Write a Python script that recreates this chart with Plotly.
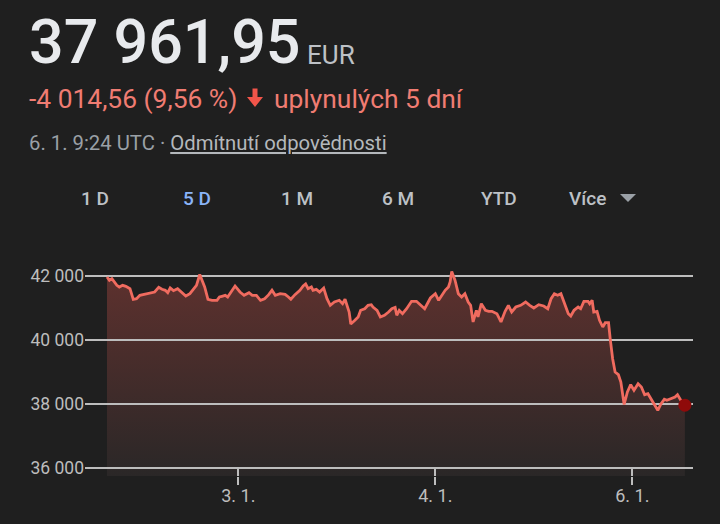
import plotly.graph_objects as go

# ---------------- data ----------------
time_h = [0.0, 0.3, 0.6, 0.9, 1.2, 1.5, 1.9, 2.3, 2.8, 3.2, 3.6, 4.0, 4.6, 5.2, 5.8, 6.3, 6.7, 7.1, 7.4, 7.7,
          8.1, 8.6, 9.1, 9.6, 10.1, 10.6, 10.9, 11.3, 11.6, 11.9, 12.3, 12.8, 13.4, 13.7, 14.0, 14.4, 14.7, 15.1, 15.6, 16.2,
          16.7, 17.3, 17.7, 18.2, 18.7, 19.2, 19.7, 20.1, 20.5, 21.1, 21.7, 22.1, 22.4, 22.9, 23.5, 23.9, 24.2, 24.5, 24.9, 25.1,
          25.5, 25.9, 26.4, 26.8, 27.2, 27.7, 28.3, 28.7, 29.0, 29.5, 29.7, 30.2, 30.6, 30.9, 31.4, 31.8, 32.2, 32.4, 32.9, 33.3,
          33.8, 34.3, 34.7, 35.1, 35.3, 35.6, 36.0, 36.5, 37.1, 37.7, 38.3, 38.7, 39.4, 40.0, 40.4, 40.9, 41.2, 41.6, 41.8, 42.0,
          42.4, 42.8, 43.2, 43.6, 44.0, 44.3, 44.6, 45.0, 45.2, 45.6, 46.1, 46.5, 46.9, 47.5, 48.0, 48.5, 48.9, 49.3, 49.8, 50.4,
          51.0, 51.5, 52.0, 52.6, 53.2, 53.7, 54.1, 54.5, 54.9, 55.3, 55.7, 56.2, 56.5, 56.9, 57.4, 57.7, 58.1, 58.6, 58.8, 59.1,
          59.3, 59.7, 60.0, 60.4, 60.7, 61.1, 61.3, 61.6, 61.9, 62.3, 62.6, 63.0, 63.4, 63.8, 64.2, 64.7, 65.1, 65.5, 65.9, 66.4,
          66.8, 67.1, 67.5, 67.9, 68.2, 68.7, 69.2, 69.5, 69.9, 70.4]
price_eur = [41970, 41866, 41916, 41791, 41709, 41656, 41709, 41678, 41603, 41272, 41291, 41397, 41428, 41459, 41500, 41647, 41584, 41553, 41478, 41625,
             41541, 41603, 41478, 41375, 41447, 41603, 41709, 42047, 41866, 41656, 41272, 41241, 41241, 41344, 41366, 41397, 41344, 41500, 41688, 41500,
             41397, 41478, 41397, 41397, 41241, 41291, 41416, 41553, 41397, 41447, 41428, 41344, 41272, 41416, 41553, 41688, 41750, 41603, 41656, 41553,
             41584, 41500, 41625, 41291, 41084, 41188, 41241, 41134, 41272, 40875, 40500, 40616, 40719, 40928, 40978, 41084, 41103, 41031, 40928, 40719,
             40772, 40875, 40978, 41016, 40772, 40928, 40822, 40978, 41209, 41209, 41084, 40978, 41313, 41447, 41241, 41447, 41553, 41656, 41813, 42141,
             41866, 41447, 41344, 41447, 41188, 41084, 40563, 40928, 40719, 41134, 40928, 40897, 40897, 40822, 40563, 40897, 41084, 40875, 41031, 41084,
             41188, 41084, 41000, 41103, 41063, 40978, 41291, 41447, 41397, 41447, 41188, 40822, 40750, 40928, 41031, 40978, 41209, 41209, 41134, 41241,
             40875, 40897, 40616, 40406, 40541, 40541, 40041, 39416, 39000, 38916, 38688, 37984, 38375, 38603, 38428, 38634, 38531, 38291, 38322, 38116,
             37959, 37803, 38009, 38147, 38116, 38166, 38219, 38291, 38116, 37962]

x_tick_vals = [16, 40, 64]
x_tick_text = ["3. 1.", "4. 1.", "6. 1."]
y_tick_vals = [36000, 38000, 40000, 42000]
y_tick_text = ["36 000", "38 000", "40 000", "42 000"]

price_text = "37 961,95"
currency_text = "EUR"
change_text = "-4 014,56 (9,56 %)"
period_text = "uplynulých 5 dní"
stamp_text = "6. 1. 9:24 UTC · "
disclaimer_text = "Odmítnutí odpovědnosti"
tab_labels = ["1 D", "5 D", "1 M", "6 M", "YTD", "Více"]
active_tab = "5 D"

# ---------------- layout geometry ----------------
W, H = 720, 524
L, R, T, B = 85, 27, 266, 48
PW, PH = W - L - R, H - T - B
X_RANGE = [-2.68, 71.39]
Y_RANGE = [35750, 42312.5]

BG = "#1f1f1f"
GRID = "#bdbdbd"
LABEL = "#bdbdbd"
FONT = "Roboto"


def px(x):
    return (x - L) / PW


def py(y):
    return (H - B - y) / PH


fig = go.Figure()

# fill (bottom subplot)
fig.add_trace(go.Scatter(
    x=time_h, y=price_eur, mode="lines", line=dict(width=0, color="rgba(0,0,0,0)"),
    fill="tozeroy",
    fillgradient=dict(type="vertical", start=Y_RANGE[0], stop=42100,
                      colorscale=[[0, "#2a2727"], [1, "#5e312e"]]),
    xaxis="x", yaxis="y", hoverinfo="skip", showlegend=False,
))

# line + last-point dot (top subplot, above gridlines)
fig.add_trace(go.Scatter(
    x=time_h, y=price_eur, mode="lines", line=dict(width=2.8, color="#f06b5f"),
    xaxis="x2", yaxis="y2", showlegend=False,
))
fig.add_trace(go.Scatter(
    x=[time_h[-1]], y=[price_eur[-1]], mode="markers",
    marker=dict(size=13, color="#8f0a0a"),
    xaxis="x2", yaxis="y2", showlegend=False,
))

axis_common = dict(range=X_RANGE, showgrid=False, zeroline=False, showline=False,
                   tickvals=x_tick_vals, ticktext=x_tick_text, tickcolor=GRID, tickwidth=1.5,
                   ticklen=8, domain=[0, 1])

annotations = [
    dict(x=px(27), y=py(41.7), text=price_text, xanchor="left", yanchor="middle",
         font=dict(family=FONT, size=61, weight=500, color="#e8eaed")),
    dict(x=px(305), y=py(55), text=currency_text, xanchor="left", yanchor="middle",
         font=dict(family=FONT, size=26, color="#bdc1c6")),
    dict(x=px(27), y=py(98.7), text=change_text, xanchor="left", yanchor="middle",
         font=dict(family=FONT, size=26.4, color="#f07c72")),
    dict(x=px(272), y=py(98.7), text=period_text, xanchor="left", yanchor="middle",
         font=dict(family=FONT, size=26.4, color="#f07c72")),
    dict(x=px(27), y=py(143.3),
         text=stamp_text + "<span style='color:#b4b8bc'><u>" + disclaimer_text + "</u></span>",
         xanchor="left", yanchor="middle",
         font=dict(family=FONT, size=20.3, color="#9aa0a6")),
]
tab_centers = [95, 197, 297, 398, 499, 587]
for lab, cx in zip(tab_labels, tab_centers):
    annotations.append(dict(
        x=px(cx), y=py(198), text=lab, xanchor="center", yanchor="middle",
        font=dict(family=FONT, size=19, weight=500,
                  color="#8ab4f8" if lab == active_tab else "#bdc1c6")))
for a in annotations:
    a.update(xref="paper", yref="paper", showarrow=False)

tri = "M {} {} L {} {} L {} {} Z".format(px(620), py(194), px(636), py(194), px(628), py(202))
arrow = "M {} {} L {} {} L {} {} L {} {} L {} {} L {} {} L {} {} Z".format(
    px(252.5), py(88.5), px(257.5), py(88.5), px(257.5), py(97), px(263), py(97),
    px(255), py(107), px(247), py(97), px(252.5), py(97))

fig.update_layout(
    width=W, height=H,
    margin=dict(l=L, r=R, t=T, b=B, pad=0),
    paper_bgcolor=BG, plot_bgcolor="rgba(0,0,0,0)",
    showlegend=False,
    xaxis=dict(**axis_common, ticks="outside", showticklabels=False),
    yaxis=dict(range=Y_RANGE, showgrid=False, zeroline=False, showticklabels=False, domain=[0, 1]),
    xaxis2=dict(**axis_common, ticks="inside", showticklabels=True, anchor="y2",
                ticklabelstandoff=7, tickfont=dict(family=FONT, size=18, color=LABEL)),
    yaxis2=dict(range=Y_RANGE, domain=[0, 1], anchor="x2", showgrid=True, gridcolor=GRID,
                gridwidth=1.5, zeroline=False, tickvals=y_tick_vals, ticktext=y_tick_text,
                ticks="", tickfont=dict(family=FONT, size=17.5, color=LABEL)),
    annotations=annotations,
    shapes=[dict(type="path", path=tri, xref="paper", yref="paper",
                 fillcolor="#9aa0a6", line=dict(width=0)),
            dict(type="path", path=arrow, xref="paper", yref="paper",
                 fillcolor="#f2554a", line=dict(width=0))],
    hovermode=False,
)

fig.write_html("out.html", config={"displayModeBar": False},
               post_script="document.body.style.margin='0';")
